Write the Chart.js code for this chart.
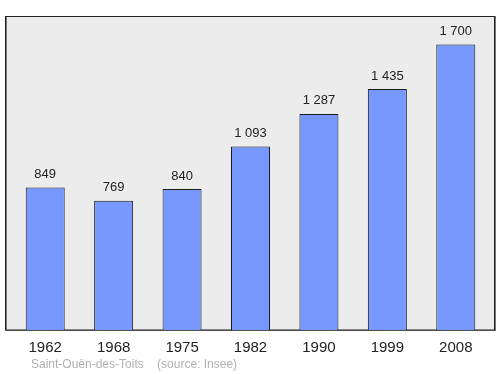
<!DOCTYPE html>
<html>
<head>
<meta charset="utf-8">
<script src="https://cdn.jsdelivr.net/npm/chart.js@4"></script>
<style>
  html, body { margin: 0; padding: 0; background: #fff; }
</style>
</head>
<body>
<canvas id="grafik" width="500" height="374"></canvas>
<script>
const annees = ['1962', '1968', '1975', '1982', '1990', '1999', '2008'];
const population = [849, 769, 840, 1093, 1287, 1435, 1700];
const commune = 'Saint-Ouën-des-Toits';
const source = '(source: Insee)';

function formatNombre(v) {
    return String(v).replace(/\B(?=(\d{3})+(?!\d))/g, ' ');
}

// fond gris + cadre de la zone de tracé
const fondPlugin = {
    id: 'fond',
    beforeDraw: function (chart) {
        const ctx = chart.ctx;
        const a = chart.chartArea;
        const x0 = a.left - 6, x1 = a.right + 4;
        ctx.save();
        ctx.fillStyle = '#ececec';
        ctx.fillRect(x0, a.top, x1 - x0, a.bottom - a.top);
        ctx.strokeStyle = '#777';
        ctx.lineWidth = 1;
        ctx.strokeRect(x0 + 1.5, a.top + 0.5, x1 - x0, a.bottom - a.top);
        ctx.strokeStyle = '#222';
        ctx.strokeRect(x0 + 0.5, a.top + 0.5, x1 - x0, a.bottom - a.top - 0.5);
        ctx.restore();
    },
    afterDatasetsDraw: function (chart) {
        const ctx = chart.ctx;
        const meta = chart.getDatasetMeta(0);
        ctx.save();
        ctx.font = '13px "Liberation Sans", Arial, sans-serif';
        ctx.fillStyle = '#222';
        ctx.textAlign = 'center';
        ctx.textBaseline = 'middle';
        meta.data.forEach(function (bar, i) {
            ctx.fillText(formatNombre(population[i]), bar.x, bar.y - 13);
        });
        ctx.font = '12px "Liberation Sans", Arial, sans-serif';
        ctx.fillStyle = '#b0b0b0';
        ctx.textAlign = 'left';
        ctx.fillText(commune + '    ' + source, 31, 365);
        ctx.restore();
    }
};

new Chart('grafik', {
    type: 'bar',
    data: {
        labels: annees,
        datasets: [{
            data: population,
            backgroundColor: '#7799ff',
            borderColor: '#1a1a1a',
            borderWidth: 1,
            barPercentage: 0.57,
            categoryPercentage: 1.0
        }]
    },
    options: {
        responsive: false,
        animation: false,
        devicePixelRatio: 1,
        layout: { padding: { left: 11, right: 10, top: 16, bottom: 0 } },
        plugins: {
            legend: { display: false },
            tooltip: { enabled: false }
        },
        scales: {
            x: {
                grid: { display: false, drawTicks: false },
                border: { display: false },
                ticks: {
                    color: '#222',
                    padding: 9,
                    font: { size: 15, family: '"Liberation Sans", Arial, sans-serif' }
                },
                afterFit: function (scale) { scale.height = 44; }
            },
            y: {
                display: false,
                min: 0,
                max: 1870
            }
        }
    },
    plugins: [fondPlugin]
});
</script>
</body>
</html>
